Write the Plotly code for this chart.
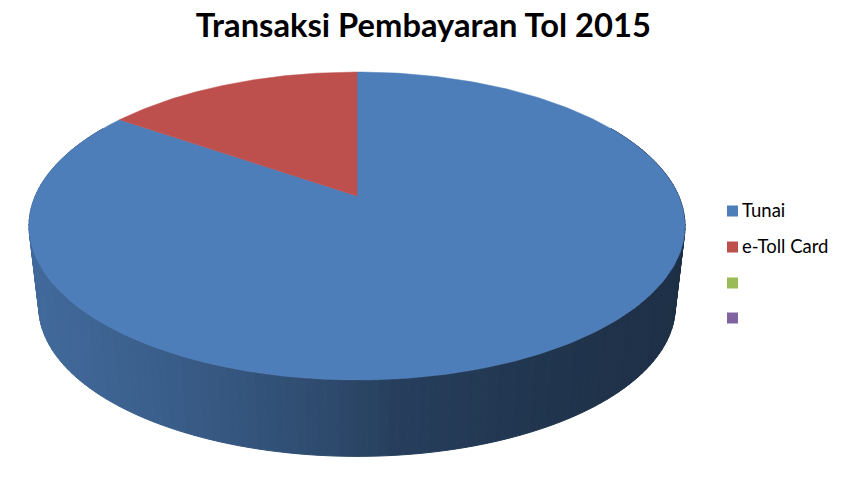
import numpy as np
import plotly.graph_objects as go

title = "Transaksi Pembayaran Tol 2015"
categories = ["Tunai", "e-Toll Card", "", ""]
shares = [84.7, 15.3, 0, 0]
colors = ["#4e7eb9", "#bd4f4c", "#9bbb59", "#8064a2"]
legend_y = [211, 247, 283, 318]

# pie position on the 849x478 page
CX, CY = 357, 196
BACK, FRONT = 72, 380
HALF_WIDTH = 328
DEPTH_Y = 81
DEPTH_SCALE = 0.97

# perspective from the three points on the vertical axis of the pie
tilt = (FRONT + BACK - 2 * CY) / (FRONT - BACK)
lift = FRONT * (1 - tilt) - CY
scale_x = HALF_WIDTH * np.sqrt(1 - tilt ** 2)
mid_y = (lift * tilt + CY) / (1 - tilt ** 2)


def project(angle):
    # angle in degrees, clockwise from 12 o'clock
    u = np.sin(np.radians(angle))
    v = np.cos(np.radians(angle))
    w = 1 + tilt * v
    return CX + scale_x * u / w, (CY - lift * v) / w


def lower(x, y):
    return CX + (x - CX) * DEPTH_SCALE, mid_y + DEPTH_Y + (y - mid_y) * DEPTH_SCALE


def shade(hex_color, factor):
    rgb = [int(hex_color[i:i + 2], 16) for i in (1, 3, 5)]
    return "rgb(%d,%d,%d)" % tuple(c * factor for c in rgb)


fig = go.Figure()
edges = 360 * np.cumsum([0] + shares) / sum(shares)

# side wall, one thin band per step so the shading runs left to right
for i, base in enumerate(colors):
    if shares[i] == 0:
        continue
    steps = np.arange(edges[i], edges[i + 1] + 1, 1.5)
    for a0, a1 in zip(steps[:-1], steps[1:]):
        if not 60 < (a0 + a1) / 2 < 300:
            continue
        x0, y0 = project(a0)
        x1, y1 = project(a1)
        x2, y2 = lower(x1, y1)
        x3, y3 = lower(x0, y0)
        c = shade(base, np.interp((x0 + x1) / 2, [29, 150, 300, 400, 550, 685],
                                  [0.84, 0.76, 0.62, 0.5, 0.42, 0.38]))
        fig.add_trace(go.Scatter(
            x=[x0, x1, x2, x3, x0], y=[y0, y1, y2, y3, y0],
            mode="lines", fill="toself", fillcolor=c,
            line=dict(color=c, width=1), hoverinfo="skip", showlegend=False))

# top face
for i, base in enumerate(colors):
    if shares[i] == 0:
        continue
    arc = np.linspace(edges[i], edges[i + 1], 300)
    xs, ys = project(arc)
    fig.add_trace(go.Scatter(
        x=[CX, *xs, CX], y=[CY, *ys, CY],
        mode="lines", fill="toself", fillcolor=base,
        line=dict(color=base, width=0.5), name=categories[i],
        hoverinfo="name", showlegend=False))

# legend, plotly's own one keeps the text too far from the squares
for name, color, y in zip(categories, colors, legend_y):
    fig.add_trace(go.Scatter(
        x=[732.5], y=[y], mode="markers", name=name,
        marker=dict(symbol="square", size=11, color=color),
        hoverinfo="skip", showlegend=False))
    if name:
        fig.add_annotation(x=740, y=y, yshift=1, text=name, xanchor="left", yanchor="middle", showarrow=False,
                           font=dict(family="Lato", size=18.5, color="#000000"))

fig.update_layout(
    width=849, height=478,
    margin=dict(l=0, r=0, t=0, b=0),
    paper_bgcolor="white", plot_bgcolor="white",
    title=dict(text="<b>%s</b>" % title, x=0.4986, xanchor="center", y=0.9475, yanchor="middle",
               font=dict(family="Lato", size=32.7, color="#000000")),
    xaxis=dict(range=[0, 849], visible=False, fixedrange=True),
    yaxis=dict(range=[478, 0], visible=False, fixedrange=True),
)
# drop the default body margin so the figure sits at the page corner
fig.write_html("out.html", config={"displayModeBar": False},
               post_script="document.body.style.margin = '0';")
